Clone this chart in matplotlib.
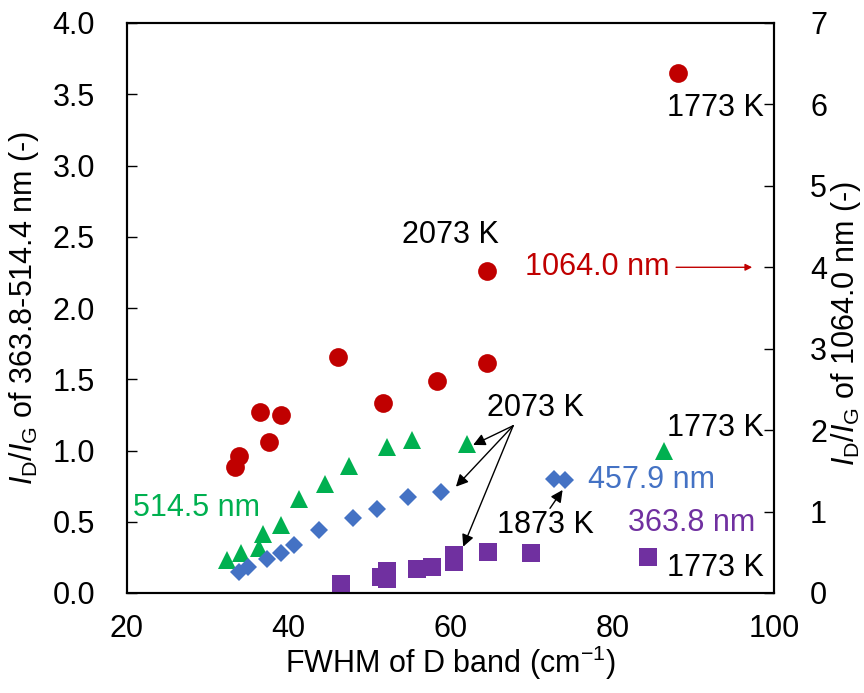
import matplotlib
matplotlib.use("Agg")
import matplotlib.pyplot as plt

plt.rcParams['font.family'] = ['Liberation Sans', 'DejaVu Sans']
plt.rcParams['mathtext.fontset'] = 'custom'
plt.rcParams['mathtext.rm'] = 'Liberation Sans'
plt.rcParams['mathtext.it'] = 'Liberation Sans:italic'

# 1064.0 nm (right axis)
red_x = [88.1, 64.5, 46.1, 64.5, 58.3, 51.6, 36.5, 39.0, 37.5, 33.8, 33.4]
red_y = [6.38, 3.96, 2.90, 2.82, 2.60, 2.33, 2.22, 2.18, 1.85, 1.68, 1.55]

# 514.5 nm (left axis)
green_x = [32.4, 34.1, 36.3, 36.8, 39.0, 41.3, 44.5, 47.5, 52.1, 55.3, 62.0, 86.4]
green_y = [0.232, 0.278, 0.313, 0.413, 0.48, 0.657, 0.765, 0.891, 1.027, 1.074, 1.046, 0.999]

# 457.9 nm (left axis)
blue_x = [33.8, 35.0, 37.3, 39.0, 40.7, 43.8, 48.0, 50.9, 54.8, 58.8, 72.8, 74.2]
blue_y = [0.149, 0.18, 0.236, 0.283, 0.337, 0.442, 0.524, 0.589, 0.676, 0.711, 0.80, 0.793]

# 363.8 nm (left axis)
purple_x = [46.5, 51.4, 52.1, 52.1, 55.9, 57.7, 60.4, 60.4, 64.6, 70.0, 84.4]
purple_y = [0.061, 0.112, 0.151, 0.095, 0.17, 0.181, 0.215, 0.267, 0.286, 0.283, 0.255]

xticks = [20, 40, 60, 80, 100]
left_ticks = [0.0, 0.5, 1.0, 1.5, 2.0, 2.5, 3.0, 3.5, 4.0]
right_ticks = [0, 1, 2, 3, 4, 5, 6, 7]

RED = '#C00000'
GREEN = '#00B050'
BLUE = '#4472C4'
PURPLE = '#7030A0'
FS = 22

W, H = 864, 693
fig = plt.figure(figsize=(W / 100, H / 100), dpi=100)
ax = fig.add_axes([127 / W, 1 - 593 / H, (774 - 127) / W, (593 - 23) / H])
ax2 = ax.twinx()

ax.plot(green_x, green_y, '^', color=GREEN, markersize=13, markeredgewidth=0, zorder=3)
ax.plot(blue_x, blue_y, 'D', color=BLUE, markersize=9, markeredgewidth=0, zorder=3)
ax.plot(purple_x, purple_y, 's', color=PURPLE, markersize=12.5, markeredgewidth=0, zorder=3)
ax2.plot(red_x, red_y, 'o', color=RED, markersize=13.5, markeredgewidth=0, zorder=3)

ax.set_xlim(20, 100)
ax.set_ylim(0, 4.0)
ax2.set_ylim(0, 7)
ax.set_xticks(xticks)
ax.set_xticklabels([str(t) for t in xticks])
ax.set_yticks(left_ticks)
ax.set_yticklabels([f'{t:.1f}' for t in left_ticks])
ax2.set_yticks(right_ticks)
ax2.set_yticklabels([str(t) for t in right_ticks])

for a in (ax, ax2):
    for s in a.spines.values():
        s.set_linewidth(1.5)
        s.set_color('black')

ax.tick_params(axis='x', length=0, pad=15, labelsize=FS)
ax.tick_params(axis='y', direction='in', length=7, width=1, pad=23, labelsize=FS)
ax2.tick_params(axis='y', direction='in', length=7, width=1, pad=26, labelsize=FS)

# axis titles
fig.text(450 / W, 1 - 673 / H, 'FWHM of D band (cm$^{-1}$)', fontsize=FS,
         ha='center', va='baseline')
fig.text(24 / W, 1 - 308 / H, r'$I_\mathrm{D}/I_\mathrm{G}$ of 363.8-514.4 nm (-)',
         fontsize=FS, ha='center', va='center', rotation=90)
fig.text(846 / W, 1 - 324 / H, r'$I_\mathrm{D}/I_\mathrm{G}$ of 1064.0 nm (-)',
         fontsize=FS, ha='center', va='center', rotation=90)

# annotations (left-axis data coords)
ax.text(86.75, 3.40, '1773 K', fontsize=FS, ha='left', va='center')
ax.text(60.05, 2.51, '2073 K', fontsize=FS, ha='center', va='center')
ax.text(69.2, 2.29, '1064.0 nm', fontsize=FS, color=RED, ha='left', va='center')
ax.annotate('', xy=(97.3, 2.2857), xytext=(87.9, 2.2857),
            arrowprops=dict(arrowstyle='-|>', color=RED, lw=1.0, mutation_scale=10,
                            shrinkA=0, shrinkB=0))
ax.text(70.56, 1.298, '2073 K', fontsize=FS, ha='center', va='center')
ax.text(86.75, 1.158, '1773 K', fontsize=FS, ha='left', va='center')
ax.text(77.0, 0.793, '457.9 nm', fontsize=FS, color=BLUE, ha='left', va='center')
ax.text(65.7, 0.477, '1873 K', fontsize=FS, ha='left', va='center')
ax.text(81.9, 0.49, '363.8 nm', fontsize=FS, color=PURPLE, ha='left', va='center')
ax.text(86.75, 0.175, '1773 K', fontsize=FS, ha='left', va='center')
ax.text(20.74, 0.596, '514.5 nm', fontsize=FS, color=GREEN, ha='left', va='center')

arrow_kw = dict(arrowstyle='-|>', color='black', lw=1.0, mutation_scale=18,
                shrinkA=0, shrinkB=0)
origin = (67.75, 1.174)
for tip in [(62.8, 1.039), (60.67, 0.746), (61.57, 0.325)]:
    ax.annotate('', xy=tip, xytext=origin, arrowprops=arrow_kw)
ax.annotate('', xy=(73.86, 0.723), xytext=(72.3, 0.594), arrowprops=arrow_kw)

fig.savefig('out.png', dpi=100)
